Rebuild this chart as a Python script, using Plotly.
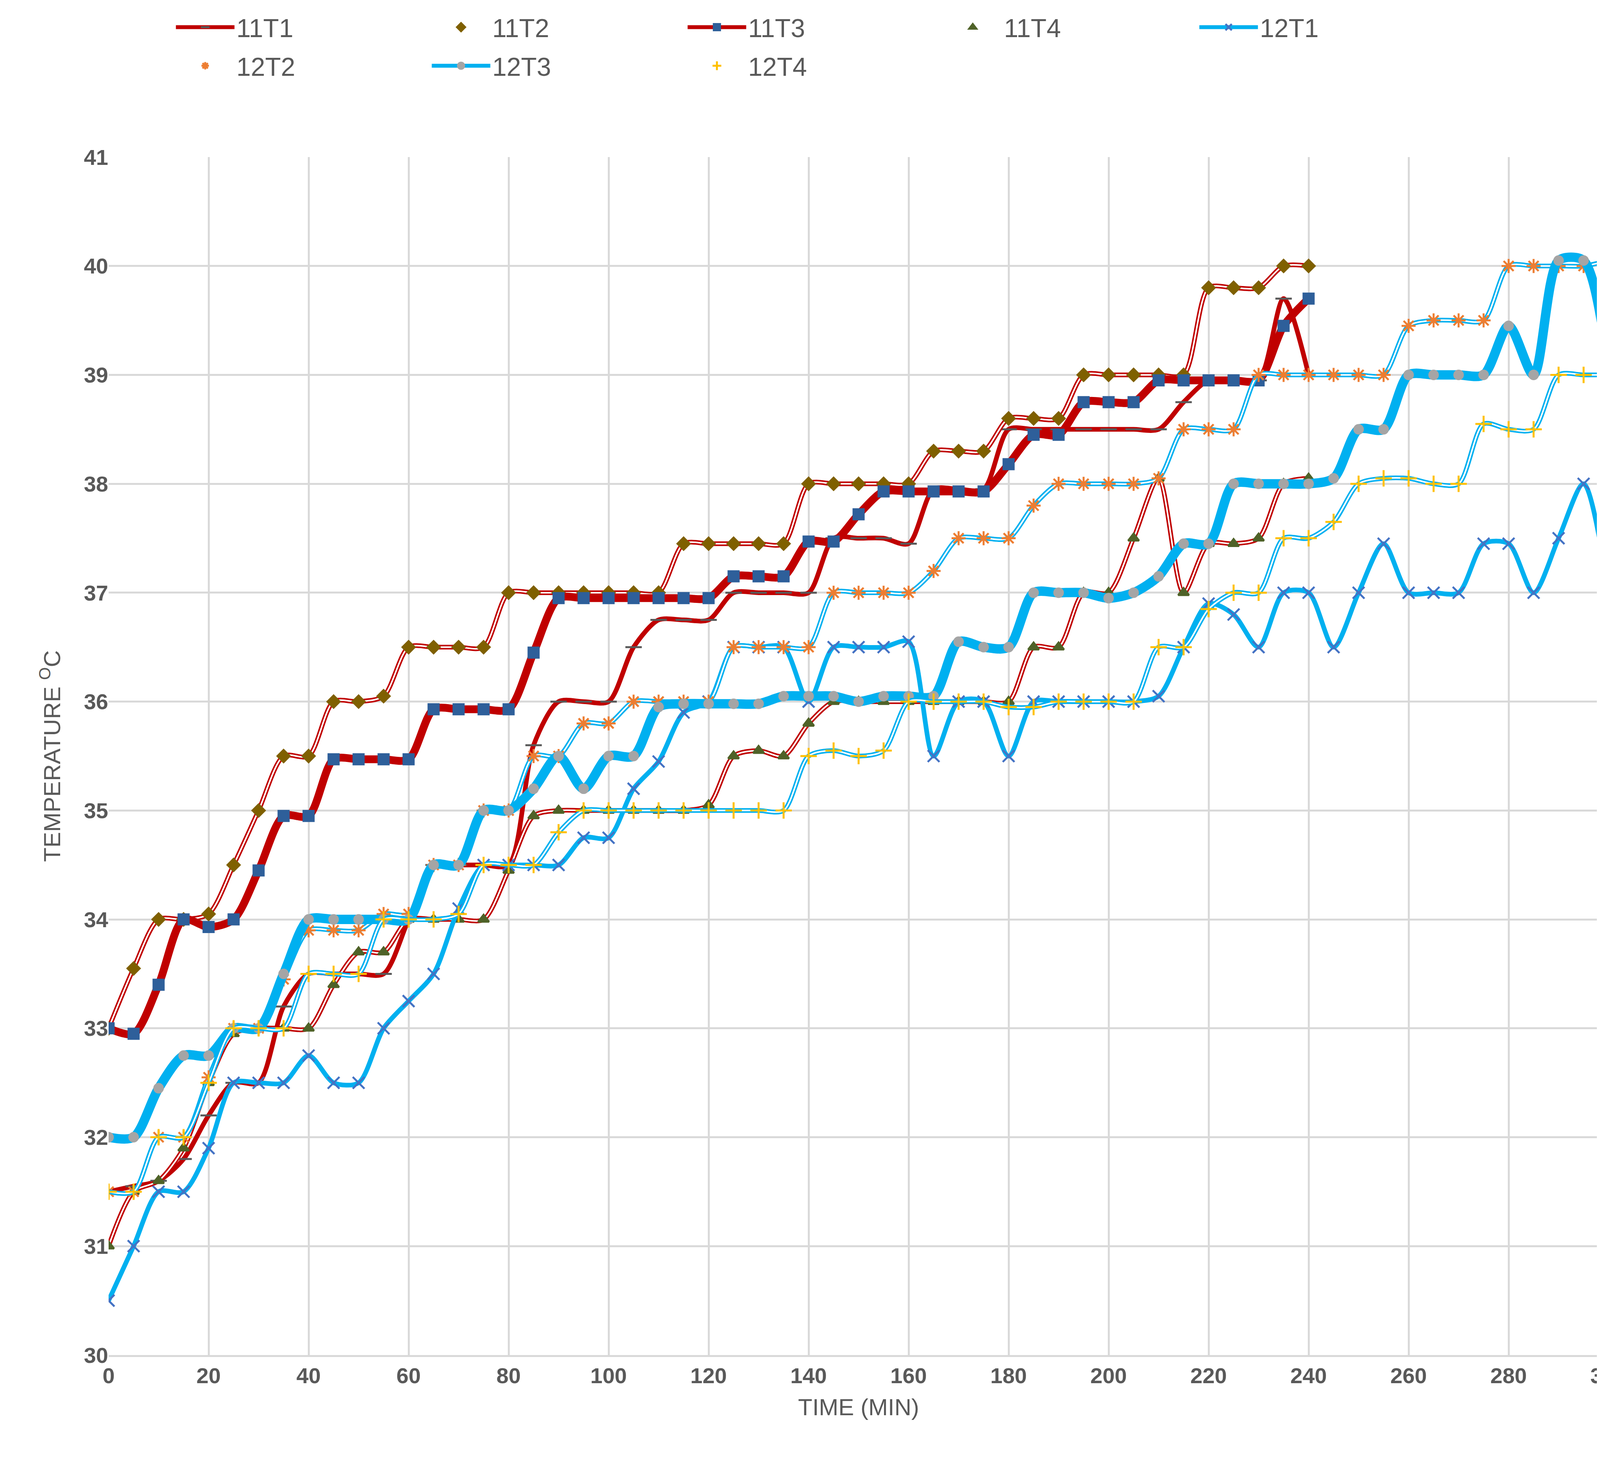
import plotly.graph_objects as go

x11 = list(range(0, 245, 5))
x12 = list(range(0, 305, 5))

t11_1 = [31.5,31.55,31.6,31.8,32.2,32.5,32.5,33.2,33.5,33.5,33.5,33.5,34,34.5,34.5,34.5,34.5,35.6,36,36,36,36.5,36.75,36.75,36.75,37,37,37,37,37.5,37.5,37.5,37.45,37.95,37.95,37.95,38.5,38.5,38.5,38.5,38.5,38.5,38.5,38.75,38.95,38.95,38.95,39.7,39.0]
t11_2 = [33,33.55,34,34,34.05,34.5,35.0,35.5,35.5,36,36,36.05,36.5,36.5,36.5,36.5,37,37,37,37,37,37,37,37.45,37.45,37.45,37.45,37.45,38,38,38,38,38,38.3,38.3,38.3,38.6,38.6,38.6,39,39,39,39,39,39.8,39.8,39.8,40,40]
t11_3 = [33,32.95,33.4,34,33.93,34,34.45,34.95,34.95,35.47,35.47,35.47,35.47,35.93,35.93,35.93,35.93,36.45,36.95,36.95,36.95,36.95,36.95,36.95,36.95,37.15,37.15,37.15,37.47,37.47,37.72,37.93,37.93,37.93,37.93,37.93,38.18,38.45,38.45,38.75,38.75,38.75,38.95,38.95,38.95,38.95,38.95,39.45,39.7]
t11_4 = [31,31.5,31.6,31.9,32.5,32.95,33,33,33,33.4,33.7,33.7,34,34,34,34,34.45,34.95,35,35,35,35,35,35,35.05,35.5,35.55,35.5,35.8,36,36,36,36,36,36,36,36,36.5,36.5,37,37,37.5,38.05,37,37.45,37.45,37.5,38,38.05]
t12_1 = [30.5,31,31.5,31.5,31.9,32.5,32.5,32.5,32.75,32.5,32.5,33,33.25,33.5,34.1,34.5,34.5,34.5,34.5,34.75,34.75,35.2,35.45,35.9,36,36.5,36.5,36.5,36,36.5,36.5,36.5,36.55,35.5,36,36,35.5,36,36,36,36,36,36.05,36.5,36.9,36.8,36.5,37,37,36.5,37,37.45,37,37,37,37.45,37.45,37,37.5,38,37]
t12_2 = [31.5,31.5,32,32,32.55,33,33,33.45,33.9,33.9,33.9,34.05,34.05,34.5,34.5,35,35,35.5,35.5,35.8,35.8,36,36,36,36,36.5,36.5,36.5,36.5,37,37,37,37,37.2,37.5,37.5,37.5,37.8,38,38,38,38,38.05,38.5,38.5,38.5,39,39,39,39,39,39,39.45,39.5,39.5,39.5,40,40,40,40,40.05]
t12_3 = [32,32,32.45,32.75,32.75,33,33,33.5,34,34,34,34,34,34.5,34.5,35,35,35.2,35.5,35.2,35.5,35.5,35.95,35.98,35.98,35.98,35.98,36.05,36.05,36.05,36,36.05,36.05,36.05,36.55,36.5,36.5,37,37,37,36.95,37,37.15,37.45,37.45,38,38,38,38,38.05,38.5,38.5,39,39,39,39,39.45,39,40.05,40.05,39.05]
t12_4 = [31.5,31.5,32,32,32.5,33,33,33,33.5,33.5,33.5,34,34,34,34.05,34.5,34.5,34.5,34.8,35,35,35,35,35,35,35,35,35,35.5,35.55,35.5,35.55,36,36,36,36,35.95,35.95,36,36,36,36,36.5,36.5,36.85,37,37,37.5,37.5,37.65,38,38.05,38.05,38,38,38.55,38.5,38.5,39,39,39]

RED = "#c00000"
CYAN = "#00b0f0"
fig = go.Figure()

def solid(name, x, y, color, w, msym, mcol, msize):
    fig.add_trace(go.Scatter(x=x, y=y, name=name, mode="lines+markers",
        line=dict(color=color, width=w, shape="spline", smoothing=0.8),
        marker=dict(symbol=msym, color=mcol, size=msize, line=dict(color=mcol, width=5))))

def double(name, x, y, color, msym, mcol, msize):
    fig.add_trace(go.Scatter(x=x, y=y, name=name, legendgroup=name, mode="lines",
        line=dict(color=color, width=12, shape="spline", smoothing=0.8), showlegend=False, hoverinfo="skip"))
    fig.add_trace(go.Scatter(x=x, y=y, name=name, legendgroup=name, mode="lines+markers",
        line=dict(color="white", width=4, shape="spline", smoothing=0.8),
        marker=dict(symbol=msym, color=mcol, size=msize, line=dict(color=mcol, width=5))))

solid("11T1", x11, t11_1, RED, 12, "line-ew", "#595959", 30)
double("11T2", x11, t11_2, RED, "diamond", "#7f6000", 24)
solid("11T3", x11, t11_3, RED, 20, "square", "#2e5f9a", 26)
double("11T4", x11, t11_4, RED, "triangle-up", "#4f6228", 24)
solid("12T1", x12, t12_1, CYAN, 12, "x-thin", "#4472c4", 30)
double("12T2", x12, t12_2, CYAN, "asterisk", "#ed7d31", 30)
solid("12T3", x12, t12_3, CYAN, 24, "circle", "#a5a5a5", 22)
double("12T4", x12, t12_4, CYAN, "cross-thin", "#ffc000", 30)

fig.update_layout(
    width=4180, height=3720, paper_bgcolor="white", plot_bgcolor="white",
    margin=dict(l=270, r=70, t=290, b=260),
    font=dict(family="Liberation Sans, Arial", color="#595959"),
    legend=dict(orientation="h", x=0.47, xanchor="center", y=1.06, yanchor="bottom",
                font=dict(size=66), itemwidth=150, entrywidth=490),
    xaxis=dict(range=[0, 300], dtick=20, showgrid=True, gridcolor="#d9d9d9", gridwidth=5,
               zeroline=False, showline=True, linecolor="#d9d9d9", linewidth=5,
               tickfont=dict(size=56, color="#595959", weight="bold"),
               title=dict(text="TIME (MIN)", font=dict(size=60), standoff=30), ticks="", tickformat="d"),
    yaxis=dict(range=[30, 41], dtick=1, showgrid=True, gridcolor="#d9d9d9", gridwidth=5,
               zeroline=False, showline=False,
               tickfont=dict(size=56, color="#595959", weight="bold"),
               title=dict(text="TEMPERATURE <sup>O</sup>C", font=dict(size=60), standoff=40)),
)
fig.write_html("out.html")
